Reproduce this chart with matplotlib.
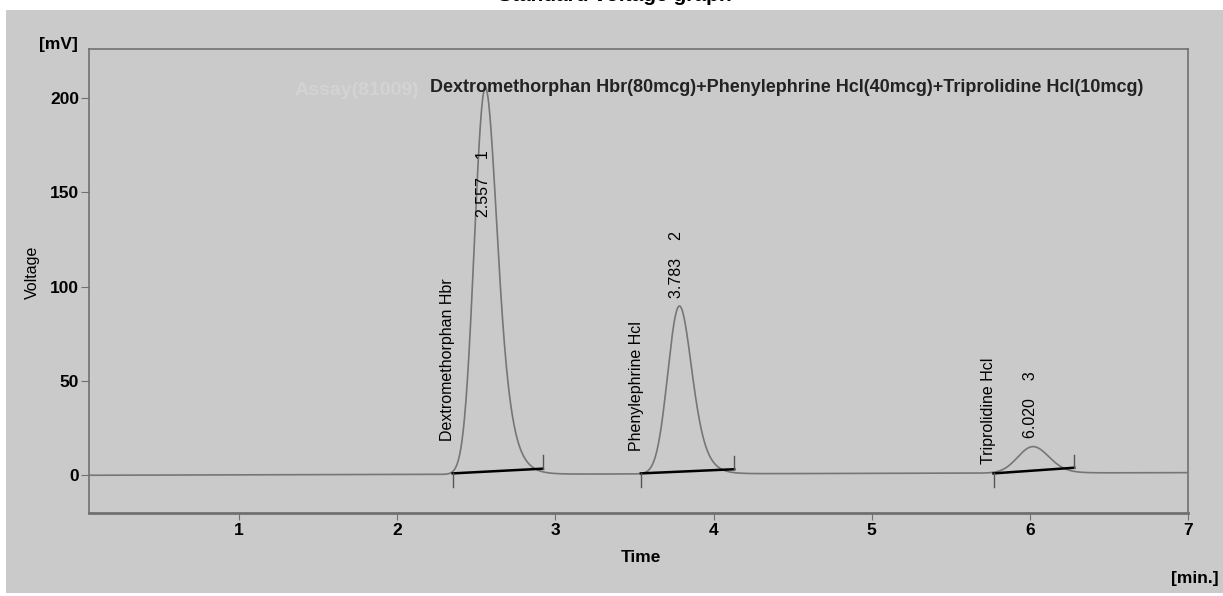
import math
import numpy as np
import matplotlib
matplotlib.use("Agg")
import matplotlib.pyplot as plt
from matplotlib.patches import Rectangle

plt.rcParams['font.family'] = ['Liberation Sans Narrow', 'Liberation Sans', 'DejaVu Sans']

# peak table
peak_names = ["Dextromethorphan Hbr", "Phenylephrine Hcl", "Triprolidine Hcl"]
peak_ids = ["1", "2", "3"]
peak_rt = [2.557, 3.783, 6.020]          # retention time [min]
peak_height = [205.0, 89.0, 14.0]        # apex [mV]
peak_sigma = [0.060, 0.065, 0.090]       # gaussian width [min]
peak_tau = [0.060, 0.055, 0.050]         # tailing [min]

# integration baselines (start/end time and level)
base_start_t = [2.35, 3.54, 5.77]
base_end_t = [2.92, 4.13, 6.28]
base_start_y = [1.0, 1.0, 1.0]
base_end_y = [3.5, 3.2, 4.0]

# label placement (mV, bottom of rotated text)
rt_label_y = [137, 94, 20]
name_label_y = [18, 13, 6]

baseline_drift = 0.2   # mV per min
header = "Dextromethorphan Hbr(80mcg)+Phenylephrine Hcl(40mcg)+Triprolidine Hcl(10mcg)"

bg = '#cacaca'
spine_col = '#707070'


def emg(t, rt, h, s, tau):
    x = t - rt
    y = np.array([math.exp(min(s * s / (2 * tau * tau) - xi / tau, 700)) *
                  math.erfc((s / tau - xi / s) / math.sqrt(2)) for xi in x])
    # shift so that the apex sits at rt
    shift = t[np.argmax(y)] - rt
    x = t - rt + shift
    y = np.array([math.exp(min(s * s / (2 * tau * tau) - xi / tau, 700)) *
                  math.erfc((s / tau - xi / s) / math.sqrt(2)) for xi in x])
    return h * y / y.max()


t = np.linspace(0.05, 7.0, 3000)
signal = baseline_drift * t
for rt, h, s, tau in zip(peak_rt, peak_height, peak_sigma, peak_tau):
    signal = signal + emg(t, rt, h, s, tau)

fig = plt.figure(figsize=(12.23, 5.96), dpi=100, facecolor='white')
panel = Rectangle((6 / 1223, 0.005), 1 - 6 / 1223, 1 - 10 / 596 - 0.005,
                  transform=fig.transFigure, facecolor=bg, edgecolor='none')
panel.set_zorder(-5)
fig.add_artist(panel)

ax = fig.add_axes([89 / 1223, 1 - 513 / 596, (1188 - 89) / 1223, (513 - 49) / 596])
ax.set_zorder(2)
ax.set_facecolor(bg)

ax.plot(t, signal, color='#767676', lw=1.2, zorder=3)

for i in range(3):
    ax.plot([base_start_t[i], base_end_t[i]], [base_start_y[i], base_end_y[i]],
            color='black', lw=1.8, zorder=4)
    ax.plot([base_start_t[i], base_start_t[i]], [base_start_y[i] - 7, base_start_y[i]],
            color='#555555', lw=1.0, zorder=4)
    ax.plot([base_end_t[i], base_end_t[i]], [base_end_y[i], base_end_y[i] + 7],
            color='#555555', lw=1.0, zorder=4)
    ax.text(base_start_t[i] - 0.03, name_label_y[i], peak_names[i], rotation=90,
            ha='center', va='bottom', fontsize=11.5)
    ax.text(peak_rt[i] - 0.015, rt_label_y[i], "%.3f    %s" % (peak_rt[i], peak_ids[i]),
            rotation=90, ha='center', va='bottom', fontsize=11.5)

# faded watermark left of the header
ax.text(0.30, 0.91, "Assay(81009)", transform=ax.transAxes, fontsize=14,
        fontweight='bold', color='#d3d3d3', ha='right', va='center')
ax.text(0.31, 0.917, header, transform=ax.transAxes, fontsize=13,
        fontweight='bold', ha='left', va='center', color='#222222')

ax.set_xlim(0.05, 7.0)
ax.set_ylim(-20, 226)
ax.set_xticks([1, 2, 3, 4, 5, 6, 7])
ax.set_yticks([0, 50, 100, 150, 200])
ax.tick_params(axis='both', direction='out', color=spine_col, labelsize=12.5)
ax.tick_params(axis='x', length=5, pad=2)
ax.tick_params(axis='y', length=6, pad=1)
for lab in ax.get_xticklabels() + ax.get_yticklabels():
    lab.set_fontweight('bold')
for sp in ax.spines.values():
    sp.set_color(spine_col)
    sp.set_linewidth(1.2)
ax.spines['bottom'].set_linewidth(2)

fig.text(58 / 1223, 1 - 44 / 596, "[mV]", ha='center', va='center',
         fontsize=12.5, fontweight='bold')
fig.text(32 / 1223, 1 - 272 / 596, "Voltage", rotation=90, ha='center',
         va='center', fontsize=11.5)
fig.text(641 / 1223, 1 - 558 / 596, "Time", ha='center', va='center',
         fontsize=12.5, fontweight='bold')
fig.text(1195 / 1223, 1 - 578 / 596, "[min.]", ha='center', va='center',
         fontsize=12.5, fontweight='bold')
# page title, mostly cut off above the image in the reference
fig.text(615 / 1223, 1 - 1 / 596, "Standard voltage graph", ha='center',
         va='baseline', fontsize=15, fontweight='bold')

fig.savefig("out.png", dpi=100, facecolor='white')
